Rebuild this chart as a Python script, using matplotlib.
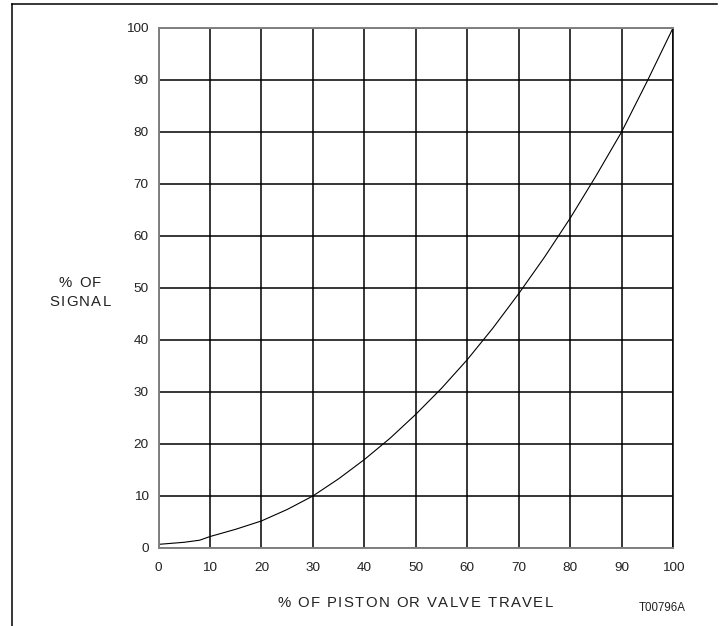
import matplotlib
matplotlib.use("Agg")
import matplotlib.pyplot as plt
from matplotlib.lines import Line2D
from matplotlib.font_manager import FontProperties, findfont, get_font

plt.rcParams['font.family'] = ['Liberation Sans', 'DejaVu Sans']

# Characteristic curve: signal (%) versus piston/valve travel (%)
travel = [0, 5, 8, 10, 15, 20, 25, 30, 35, 40, 45, 50, 55, 60, 65,
          70, 75, 80, 85, 90, 95, 100]
signal = [0.7, 1.1, 1.5, 2.2, 3.6, 5.2, 7.4, 10.0, 13.3, 17.0, 21.1, 25.7,
          30.7, 36.2, 42.3, 48.9, 55.9, 63.4, 71.5, 80.0, 89.8, 100.0]

x_ticks = [0, 10, 20, 30, 40, 50, 60, 70, 80, 90, 100]
y_ticks = [0, 10, 20, 30, 40, 50, 60, 70, 80, 90, 100]

DPI = 100
W, H = 719, 626
TEXT_COLOR = '#222222'

fig = plt.figure(figsize=(W / DPI, H / DPI), dpi=DPI)
ax = fig.add_axes([158.5 / W, 1 - 548 / H, (673 - 158.5) / W, (548 - 28) / H])

ax.plot(travel, signal, color='black', lw=0.8)

ax.set_xlim(0, 100)
ax.set_ylim(0, 100)
ax.set_xticks(x_ticks)
ax.set_yticks(y_ticks)
ax.set_xticklabels([str(v) for v in x_ticks])
ax.set_yticklabels([str(v) for v in y_ticks])
ax.tick_params(axis='both', length=0, labelsize=9.7, colors=TEXT_COLOR)
ax.tick_params(axis='x', pad=10)
ax.tick_params(axis='y', pad=7)
ax.grid(True, color='black', lw=1.1)
ax.set_axisbelow(True)

for side in ('top', 'bottom', 'left'):
    ax.spines[side].set_color('#808080')
    ax.spines[side].set_linewidth(1.4)
ax.spines['right'].set_color('black')
ax.spines['right'].set_linewidth(1.1)


def tracked_text(cx, cy, s, size, tracking):
    """Draw a single line centred at pixel (cx, cy) with extra letter spacing."""
    prop = FontProperties(family='Liberation Sans', size=size)
    font = get_font(findfont(prop))
    font.set_size(size, DPI)
    advances = []
    for ch in s:
        glyph = font.load_char(ord(ch))
        advances.append(glyph.linearHoriAdvance / 65536.0)
    total = sum(advances) + tracking * (len(s) - 1)
    x = cx - total / 2.0
    for ch, adv in zip(s, advances):
        if ch != ' ':
            fig.text(x / W, 1 - cy / H, ch, ha='left', va='center',
                     fontsize=size, color=TEXT_COLOR,
                     family='Liberation Sans')
        x += adv + tracking


# Axis captions
tracked_text(415, 603, '% OF PISTON OR VALVE TRAVEL', 10.7, 1.45)
tracked_text(80, 283, '% OF', 10.7, 1.5)
tracked_text(80, 302, 'SIGNAL', 10.7, 1.5)
fig.text(662 / W, 1 - 608 / H, 'T00796A', ha='center', va='center',
         fontsize=8.3, color=TEXT_COLOR)

# Page frame (left and top rules)
fig.add_artist(Line2D([11.5 / W, 11.5 / W], [0, 1 - 4 / H], color='black',
                      lw=1.1, transform=fig.transFigure))
fig.add_artist(Line2D([11.5 / W, 717 / W], [1 - 4 / H, 1 - 4 / H],
                      color='black', lw=1.1, transform=fig.transFigure))

fig.savefig('out.png', dpi=DPI)
